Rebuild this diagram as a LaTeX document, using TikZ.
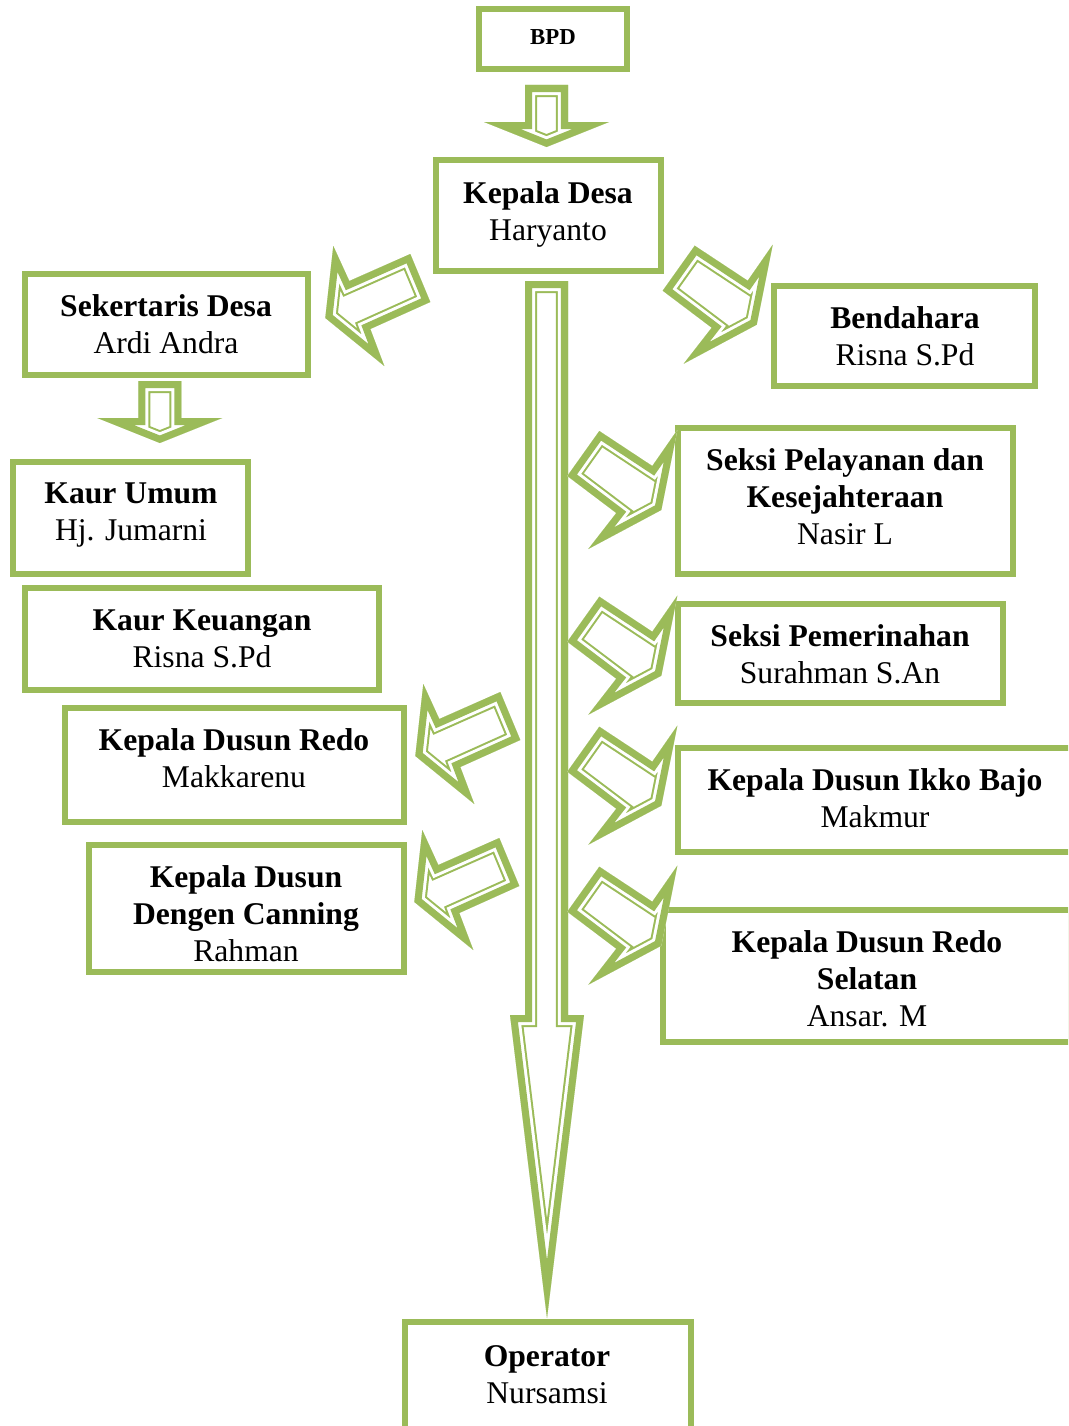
\documentclass[tikz,border=0pt]{standalone}
\usepackage{fontspec}
\setmainfont{Liberation Serif}
\usetikzlibrary{positioning}
\definecolor{kgreen}{HTML}{9BBB59}
\tikzset{orgbox/.style={rectangle,draw=kgreen,line width=3.4pt,inner sep=0pt}}
\tikzset{orgtext/.style={align=center,inner sep=0pt,font=\fontsize{18}{21}\selectfont}}
\tikzset{blockthin/.style={draw=kgreen,line width=13.7pt,line join=miter}}
\tikzset{blockgap/.style={draw=white,line width=11.4pt,line join=miter}}
\tikzset{blockthick/.style={draw=kgreen,line width=8pt,line join=miter}}

% outlines of the block arrows (pixel units)
\newcommand{\rightshape}{(0,0) -- (32,-45) -- (85,-10) -- (110,-46) -- (94,34) -- (21,73) -- (49,37) -- cycle}
\newcommand{\leftshape}{(0,0) -- (16,35) -- (77,8) -- (97,56) -- (37,83) -- (51,120) -- (-8,72) -- cycle}
\newcommand{\downshape}{(0,0) -- (43,0) -- (43,37) -- (84,37) -- (21.5,62) -- (-41,37) -- (0,37) -- cycle}

\newcommand{\blockarrow}[2]{%
  \begin{scope}[shift={#1}]
    \clip #2;
    \draw[blockthin] #2;
    \draw[blockgap] #2;
    \draw[blockthick] #2;
  \end{scope}}

\begin{document}
\begin{tikzpicture}[x=0.02cm,y=-0.02cm]
    \useasboundingbox (0,0) rectangle (1068,1426);
    \clip (0,0) rectangle (1068,1426);

    % boxes
    \node[orgbox,minimum width=2.96cm,minimum height=1.20cm] (bpd) at (553,39) {};
    \node[orgbox,minimum width=4.50cm,minimum height=2.22cm] (kades) at (548.5,215.5) {};
    \node[orgbox,minimum width=5.66cm,minimum height=2.02cm] (sekdes) at (166.5,324.5) {};
    \node[orgbox,minimum width=5.22cm,minimum height=2.00cm] (bendahara) at (904.5,336) {};
    \node[orgbox,minimum width=4.70cm,minimum height=2.24cm] (kaurumum) at (130.5,518) {};
    \node[orgbox,minimum width=6.70cm,minimum height=2.92cm] (pelayanan) at (845.5,501) {};
    \node[orgbox,minimum width=7.08cm,minimum height=2.04cm] (kaurkeu) at (202,639) {};
    \node[orgbox,minimum width=6.50cm,minimum height=1.98cm] (pemerintah) at (840.5,653.5) {};
    \node[orgbox,minimum width=6.78cm,minimum height=2.28cm] (dusunredo) at (234.5,765) {};
    \node[orgbox,minimum width=7.88cm,minimum height=2.08cm] (dusunikko) at (875,800) {};
    \node[orgbox,minimum width=6.30cm,minimum height=2.54cm] (dusundengen) at (246.5,908.5) {};
    \node[orgbox,minimum width=8.16cm,minimum height=2.64cm] (dusunselatan) at (867,976) {};
    \node[orgbox,minimum width=5.72cm,minimum height=2.40cm] (operator) at (548,1382) {};

    % texts
    \node[orgtext,font=\fontsize{13}{15}\selectfont\bfseries] (bpdT) at (553,37) {BPD};
    \node[orgtext] (kadesT) at (548,214) {\textbf{Kepala Desa}\\Haryanto};
    \node[orgtext] (sekdesT) at (166,324) {\textbf{Sekertaris Desa}\\Ardi Andra};
    \node[orgtext] (bendaharaT) at (905,336) {\textbf{Bendahara}\\Risna S.Pd};
    \node[orgtext] (kaurumumT) at (131,515) {\textbf{Kaur Umum}\\Hj. Jumarni};
    \node[orgtext] (pelayananT) at (845,497) {\textbf{Seksi Pelayanan dan}\\\textbf{Kesejahteraan}\\Nasir L};
    \node[orgtext] (kaurkeuT) at (202,639) {\textbf{Kaur Keuangan}\\Risna S.Pd};
    \node[orgtext] (pemerintahT) at (840,654) {\textbf{Seksi Pemerinahan}\\Surahman S.An};
    \node[orgtext] (dusunredoT) at (234,758) {\textbf{Kepala Dusun Redo}\\Makkarenu};
    \node[orgtext] (dusunikkoT) at (875,798) {\textbf{Kepala Dusun Ikko Bajo}\\Makmur};
    \node[orgtext] (dusundengenT) at (246,914) {\textbf{Kepala Dusun}\\\textbf{Dengen Canning}\\Rahman};
    \node[orgtext] (dusunselatanT) at (867,979) {\textbf{Kepala Dusun Redo}\\\textbf{Selatan}\\Ansar. M};
    \node[orgtext] (operatorT) at (547,1375) {\textbf{Operator}\\Nursamsi};

    % block arrows
    \blockarrow{(525,85)}{\downshape}
    \blockarrow{(138.3,381)}{\downshape}
    \blockarrow{(0,0)}{(525,281) -- (568,281) -- (568,1015) -- (584,1015) -- (547,1318) -- (510,1015) -- (525,1015) -- cycle}

    \blockarrow{(333.3,246)}{\leftshape}
    \blockarrow{(423.3,684)}{\leftshape}
    \blockarrow{(422.3,830)}{\leftshape}

    \blockarrow{(662.7,290.7)}{\rightshape}
    \blockarrow{(567.3,476)}{\rightshape}
    \blockarrow{(567.3,641.7)}{\rightshape}
    \blockarrow{(567.3,771.7)}{\rightshape}
    \blockarrow{(567.3,911.7)}{\rightshape}

\end{tikzpicture}
\end{document}
